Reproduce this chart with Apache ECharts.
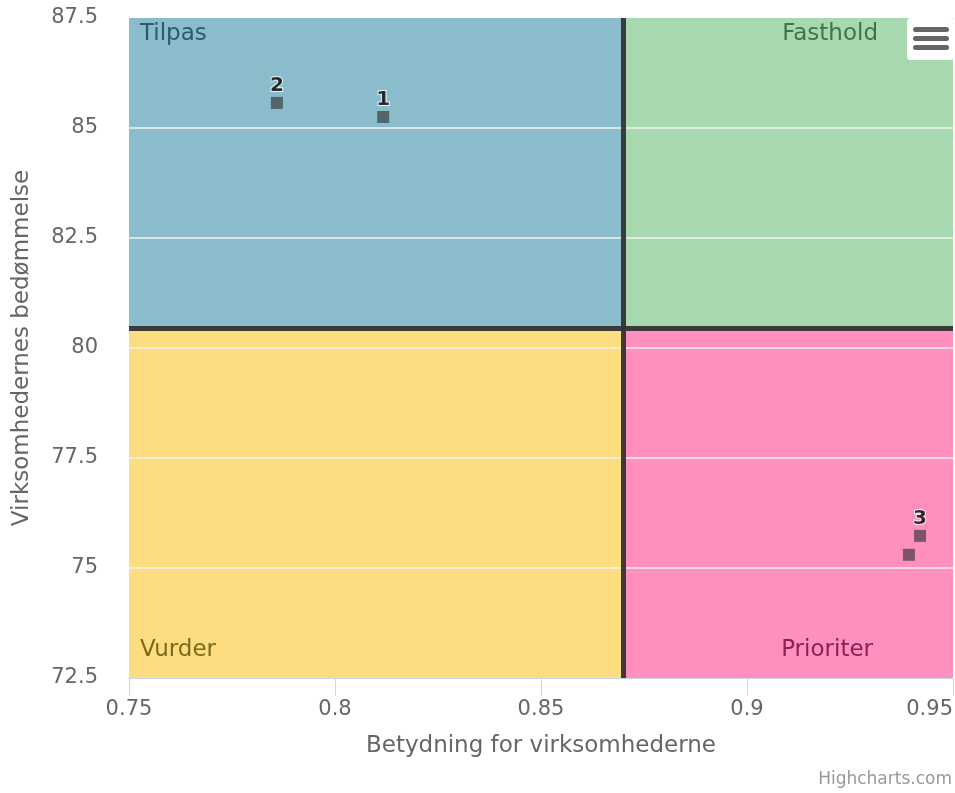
<!DOCTYPE html>
<html>
<head>
<meta charset="utf-8">
<script src="https://cdn.jsdelivr.net/npm/echarts@6/dist/echarts.min.js"></script>
<style>
  html, body { margin: 0; padding: 0; background: #fff; }
  #chart { width: 955px; height: 793px; }
</style>
</head>
<body>
<div id="chart"></div>
<script>
// punkter: betydning (x) og bedømmelse (y)
var xValues = [0.8117, 0.7859, 0.9420, 0.9393]
var yValues = [85.25, 85.57, 75.73, 75.30]
var pointLabels = ['1', '2', '3', '']

// kvadrantgrænser
var xSplit = 0.87
var ySplit = 80.45
var xMin = 0.75, xMax = 0.95, xStep = 0.05
var yMin = 72.5, yMax = 87.5, yStep = 2.5

var quadrantNames = ['Tilpas', 'Fasthold', 'Vurder', 'Prioriter']
var quadrantColors = ['#8bbccc', '#a8d8b0', '#fddd80', '#fe8fbf']
var quadrantTextColors = ['#2d5a6a', '#3f7447', '#7c6a1c', '#8c1f57']

var fontFamily = 'DejaVu Sans, sans-serif'

var points = xValues.map(function (x, i) {
  return { value: [x, yValues[i]], label: { show: pointLabels[i] !== '', formatter: pointLabels[i] } }
})

function quadLabel (i, pos, offset) {
  return {
    show: true,
    position: pos,
    distance: 10,
    offset: offset,
    color: quadrantTextColors[i],
    fontSize: 23,
    fontFamily: fontFamily
  }
}

var option = {
  backgroundColor: '#fff',
  animation: false,
  grid: { left: 129, right: 2, top: 18, bottom: 115, outerBoundsMode: 'none', containLabel: false },
  xAxis: {
    type: 'value',
    min: xMin, max: xMax, interval: xStep,
    name: 'Betydning for virksomhederne',
    nameLocation: 'middle',
    nameGap: 57,
    nameTextStyle: { color: '#666', fontSize: 23, fontFamily: fontFamily },
    axisLine: { show: true, lineStyle: { color: '#ccd6eb', width: 1 } },
    axisTick: { show: true, length: 18, lineStyle: { color: '#ccd6eb' } },
    axisLabel: { color: '#666', fontSize: 21, fontFamily: fontFamily, margin: 21, alignMaxLabel: 'right' },
    splitLine: { show: false }
  },
  yAxis: {
    type: 'value',
    min: yMin, max: yMax, interval: yStep,
    name: 'Virksomhedernes bedømmelse',
    nameLocation: 'middle',
    nameGap: 95,
    nameTextStyle: { color: '#666', fontSize: 23, fontFamily: fontFamily },
    axisLine: { show: false },
    axisTick: { show: false },
    axisLabel: { color: '#666', fontSize: 21, fontFamily: fontFamily, margin: 31 },
    splitLine: { show: true, lineStyle: { color: '#e6e6e6', width: 1 } }
  },
  series: [
    {
      type: 'scatter',
      data: [],
      silent: true,
      z: 1,
      markArea: {
        silent: true,
        itemStyle: { opacity: 1 },
        data: [
          [{ coord: [xMin, ySplit], itemStyle: { color: quadrantColors[0] }, label: quadLabel(0, 'insideTopLeft', [1, -5]) }, { coord: [xSplit, yMax] }],
          [{ coord: [xSplit, ySplit], itemStyle: { color: quadrantColors[1] }, label: quadLabel(1, 'insideTopRight', [-65, -5]) }, { coord: [xMax, yMax] }],
          [{ coord: [xMin, yMin], itemStyle: { color: quadrantColors[2] }, label: quadLabel(2, 'insideBottomLeft', [1, -6]) }, { coord: [xSplit, ySplit] }],
          [{ coord: [xSplit, yMin], itemStyle: { color: quadrantColors[3] }, label: quadLabel(3, 'insideBottomRight', [-70, -6]) }, { coord: [xMax, ySplit] }]
        ].map(function (d, i) { d[0].name = quadrantNames[i]; return d })
      }
    },
    {
      // hvide gitterlinjer oven på farvefelterne
      type: 'scatter',
      data: [],
      silent: true,
      z: 2,
      markLine: {
        silent: true,
        symbol: 'none',
        label: { show: false },
        lineStyle: { color: '#f2f2f2', width: 1.5, type: 'solid' },
        data: [85, 82.5, 80, 77.5, 75].map(function (v) { return { yAxis: v } })
      }
    },
    {
      type: 'scatter',
      data: [],
      silent: true,
      z: 3,
      markLine: {
        silent: true,
        symbol: 'none',
        label: { show: false },
        lineStyle: { color: '#333', width: 5, type: 'solid', opacity: 0.95 },
        data: [{ xAxis: xSplit }, { yAxis: ySplit }]
      }
    },
    {
      type: 'scatter',
      z: 5,
      symbol: 'rect',
      symbolSize: 12,
      itemStyle: { color: 'rgba(51,51,51,0.8)' },
      label: {
        position: 'top',
        distance: 1,
        color: '#000',
        fontWeight: 'bold',
        fontSize: 20,
        fontFamily: fontFamily,
        textBorderColor: '#fff',
        textBorderWidth: 2
      },
      data: points
    }
  ],
  graphic: [
    { type: 'rect', left: 907, top: 18, z: 100, shape: { x: 0, y: 0, width: 47, height: 42, r: 4 }, style: { fill: '#fff' } },
    { type: 'rect', left: 913, top: 27, z: 101, shape: { x: 0, y: 0, width: 36, height: 5, r: 2.5 }, style: { fill: '#666' } },
    { type: 'rect', left: 913, top: 36, z: 101, shape: { x: 0, y: 0, width: 36, height: 5, r: 2.5 }, style: { fill: '#666' } },
    { type: 'rect', left: 913, top: 45, z: 101, shape: { x: 0, y: 0, width: 36, height: 5, r: 2.5 }, style: { fill: '#666' } },
    {
      type: 'text',
      right: 3,
      bottom: 5,
      style: { text: 'Highcharts.com', fill: '#999', fontSize: 17, fontFamily: fontFamily }
    }
  ]
}

var chart = echarts.init(document.getElementById('chart'))
chart.setOption(option)
</script>
</body>
</html>
